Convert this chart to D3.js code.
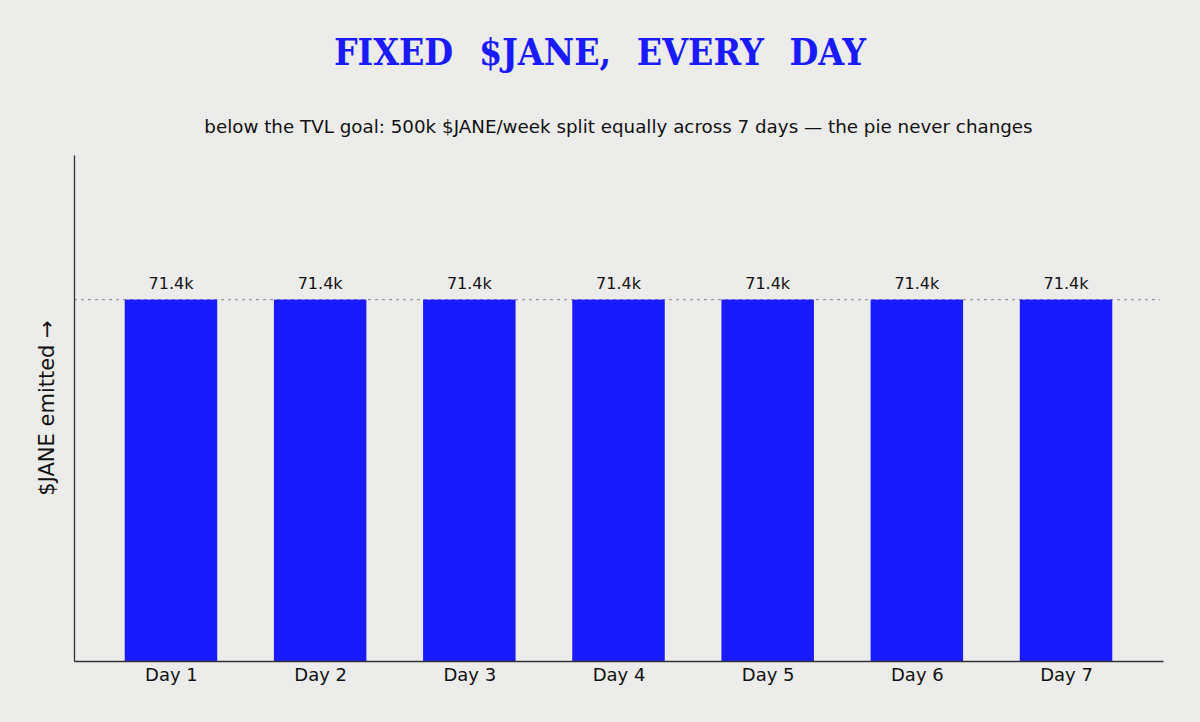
<!DOCTYPE html>
<html>
<head>
<meta charset="utf-8">
<script src="https://cdn.jsdelivr.net/npm/d3@7"></script>
<style>
  html, body { margin: 0; padding: 0; background: #ececea; }
  svg { display: block; }
</style>
</head>
<body>
<svg id="chart" width="1200" height="722"></svg>
<script>
// data
const days = ["Day 1", "Day 2", "Day 3", "Day 4", "Day 5", "Day 6", "Day 7"];
const emitted = [71428, 71428, 71428, 71428, 71428, 71428, 71428];
const barLabels = ["71.4k", "71.4k", "71.4k", "71.4k", "71.4k", "71.4k", "71.4k"];
const dailyShare = 500000 / 7; // dashed reference line

const W = 1200, H = 722;
const margin = { top: 155, right: 37, bottom: 61, left: 74 };
const width = W - margin.left - margin.right;
const height = H - margin.top - margin.bottom;
const blue = "#1a1aff";

const svg = d3.select("#chart");

svg.append("rect").attr("width", W).attr("height", H).attr("fill", "#ececea");

const g = svg.append("g").attr("transform", `translate(${margin.left},${margin.top})`);

// linear x so the bars sit like matplotlib's (xlim -0.65 .. 6.65)
const x = d3.scaleLinear().domain([-0.65, days.length - 1 + 0.65]).range([0, width]);
const step = x(1) - x(0);
const barW = step * 0.62;

const y = d3.scaleLinear().domain([0, 100000]).range([height, 0]);

// reference line
g.append("line")
  .attr("x1", 0).attr("x2", width - 3)
  .attr("y1", y(dailyShare)).attr("y2", y(dailyShare))
  .attr("stroke", "#999")
  .attr("stroke-width", 1.2)
  .attr("stroke-dasharray", "3,4");

// bars
g.selectAll("rect.bar")
  .data(emitted)
  .enter()
  .append("rect")
  .attr("class", "bar")
  .attr("x", (d, i) => x(i) - barW / 2)
  .attr("y", d => y(d))
  .attr("width", barW)
  .attr("height", d => height - y(d))
  .attr("fill", blue);

// value labels
g.selectAll("text.val")
  .data(emitted)
  .enter()
  .append("text")
  .attr("class", "val")
  .attr("x", (d, i) => x(i))
  .attr("y", d => y(d) - 11)
  .attr("text-anchor", "middle")
  .style("font-family", "DejaVu Sans")
  .style("font-size", "16px")
  .style("fill", "#111")
  .text((d, i) => barLabels[i]);

// axes
const xAxis = d3.axisBottom(x)
  .tickValues(d3.range(days.length))
  .tickFormat(i => days[i])
  .tickSize(0)
  .tickPadding(7);

const xg = g.append("g").attr("transform", `translate(0,${height})`).call(xAxis);
xg.select(".domain").attr("stroke", "#333").attr("stroke-width", 1.3);
xg.selectAll("text")
  .style("font-family", "DejaVu Sans")
  .style("font-size", "18px")
  .style("fill", "#111");

const yg = g.append("g").call(d3.axisLeft(y).tickValues([]).tickSize(0));
yg.select(".domain").attr("stroke", "#333").attr("stroke-width", 1.3);

// y label
svg.append("text")
  .attr("transform", `translate(54,${margin.top + height / 2}) rotate(-90)`)
  .attr("text-anchor", "middle")
  .style("font-family", "DejaVu Sans")
  .style("font-size", "21px")
  .style("fill", "#111")
  .text("$JANE emitted \u2192");

// title
svg.append("text")
  .attr("x", W / 2)
  .attr("y", 65)
  .attr("text-anchor", "middle")
  .style("font-family", "'DejaVu Serif Condensed', 'DejaVu Serif'")
  .style("font-stretch", "condensed")
  .style("font-weight", "bold")
  .style("font-size", "37px")
  .style("word-spacing", "1.3px")
  .style("fill", blue)
  .style("white-space", "pre")
  .text("FIXED  $JANE,  EVERY  DAY");

// subtitle
svg.append("text")
  .attr("x", margin.left + width / 2)
  .attr("y", 133)
  .attr("text-anchor", "middle")
  .style("font-family", "DejaVu Sans")
  .style("font-size", "18.3px")
  .style("fill", "#111")
  .text("below the TVL goal: 500k $JANE/week split equally across 7 days \u2014 the pie never changes");
</script>
</body>
</html>
